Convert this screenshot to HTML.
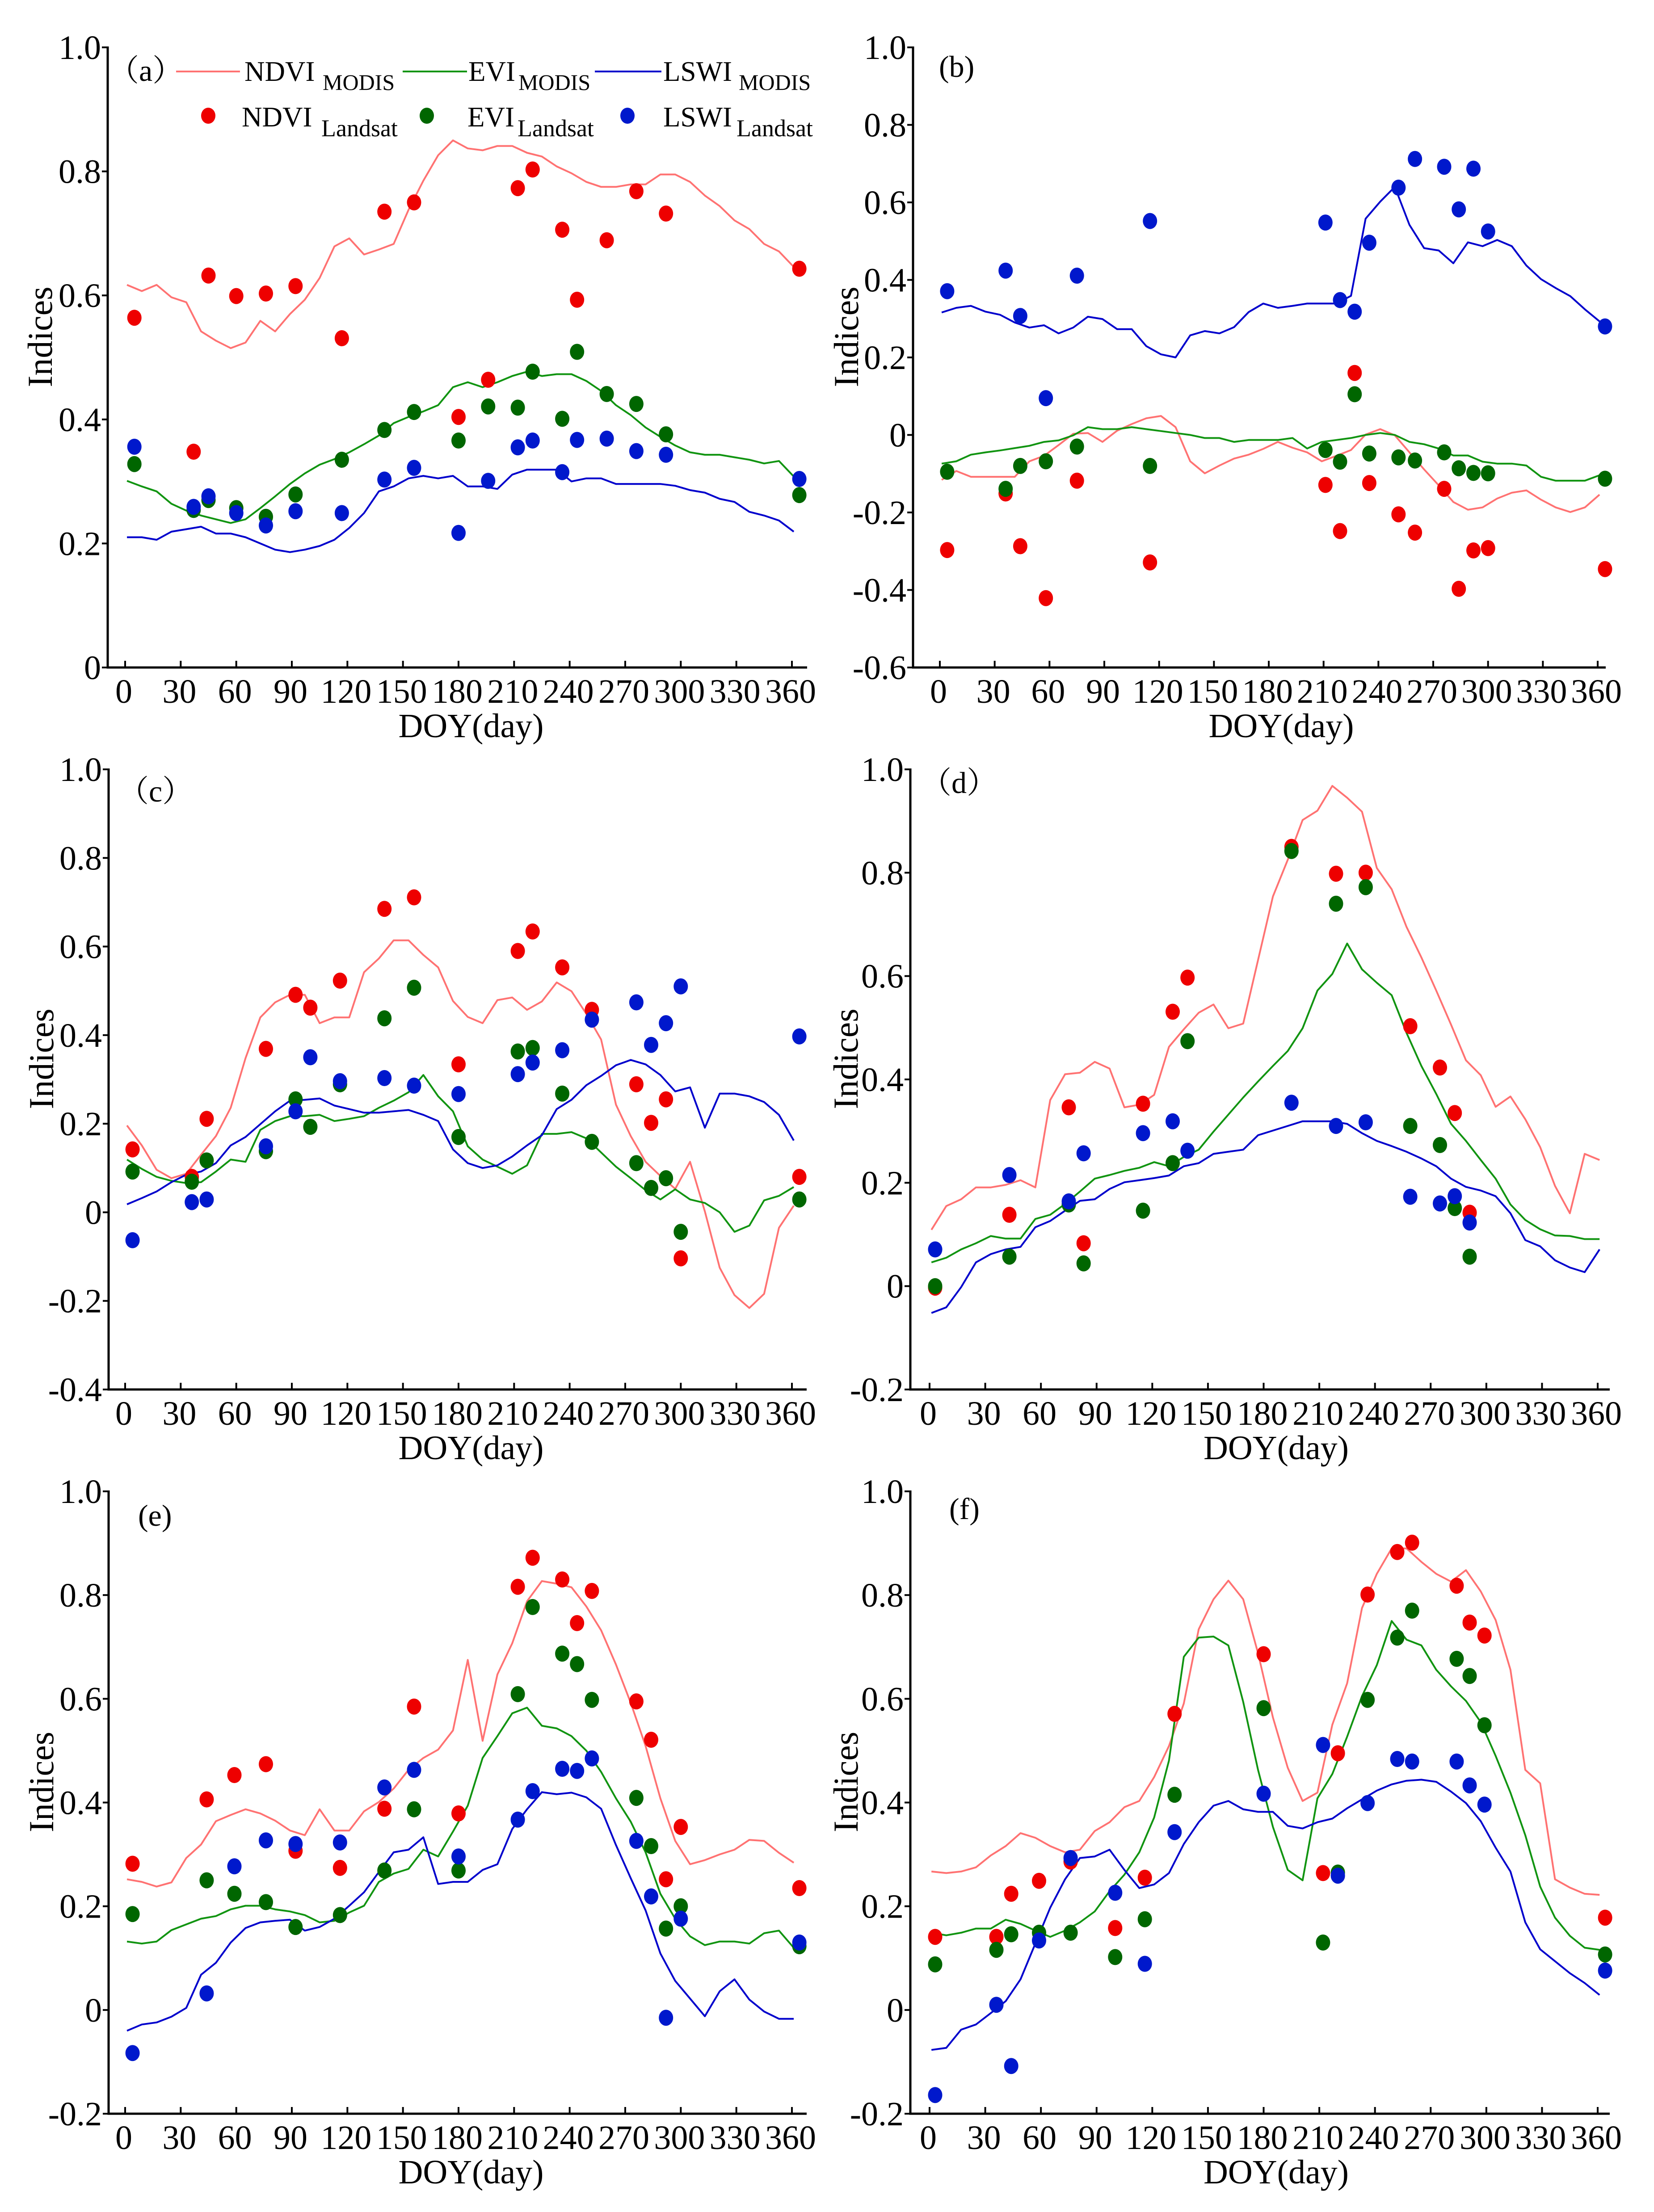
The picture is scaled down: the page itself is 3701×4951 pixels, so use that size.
<!DOCTYPE html>
<html>
<head>
<meta charset="utf-8">
<style>
html,body{margin:0;padding:0;background:#fff;}
svg{display:block;}
text{font-family:"Liberation Serif","Noto Serif CJK SC",serif;fill:#000;}
</style>
</head>
<body>
<svg id="fig" xmlns="http://www.w3.org/2000/svg" width="3701" height="4951" viewBox="0 0 3701 4951" font-family="Liberation Serif, Noto Serif CJK SC, serif">
<rect x="0" y="0" width="3701" height="4951" fill="#fff"/>
</svg>
<script>
// ---------- shared categories ----------
const doyModis=[1,9,17,25,33,41,49,57,65,73,81,89,97,105,113,121,129,137,145,153,161,169,177,185,193,201,209,217,225,233,241,249,257,265,273,281,289,297,305,313,321,329,337,345,353,361];
const xTickLabels=["0","30","60","90","120","150","180","210","240","270","300","330","360"];
const xTickValues=[0,30,60,90,120,150,180,210,240,270,300,330,360];

// ---------- panel (a) ----------
const aNdviModis=[0.617,0.607,0.617,0.597,0.589,0.542,0.527,0.515,0.524,0.559,0.542,0.570,0.593,0.628,0.679,0.692,0.666,0.674,0.683,0.738,0.785,0.826,0.850,0.837,0.834,0.841,0.841,0.830,0.824,0.808,0.797,0.783,0.775,0.775,0.779,0.779,0.795,0.795,0.783,0.761,0.744,0.721,0.707,0.683,0.671,0.646];
const aEviModis=[0.301,0.292,0.284,0.264,0.253,0.245,0.239,0.233,0.239,0.257,0.276,0.296,0.313,0.327,0.336,0.347,0.360,0.374,0.394,0.404,0.413,0.423,0.452,0.460,0.452,0.460,0.470,0.477,0.470,0.473,0.473,0.462,0.446,0.423,0.407,0.387,0.372,0.358,0.347,0.343,0.343,0.339,0.335,0.329,0.333,0.308];
const aLswiModis=[0.210,0.210,0.206,0.219,0.223,0.227,0.216,0.216,0.210,0.200,0.190,0.186,0.190,0.196,0.206,0.225,0.249,0.284,0.292,0.305,0.309,0.305,0.309,0.292,0.292,0.288,0.311,0.319,0.319,0.319,0.300,0.305,0.305,0.296,0.296,0.296,0.296,0.293,0.286,0.282,0.272,0.267,0.251,0.245,0.237,0.219];
const aDoyLandsat=[5,37,45,60,76,92,117,140,156,180,196,212,220,236,244,260,276,292,364];
const aNdviLandsat=[0.564,0.348,0.632,0.599,0.603,0.615,0.531,0.735,0.750,0.404,0.464,0.773,0.803,0.706,0.593,0.689,0.768,0.732,0.643];
const aEviLandsat=[0.328,0.254,0.270,0.257,0.243,0.279,0.335,0.383,0.412,0.366,0.421,0.419,0.477,0.401,0.509,0.441,0.425,0.376,0.278];
const aLswiLandsat=[0.356,0.259,0.276,0.249,0.229,0.252,0.249,0.303,0.322,0.217,0.301,0.355,0.366,0.315,0.367,0.369,0.349,0.343,0.304];
const aYTicks=["1.0","0.8","0.6","0.4","0.2","0"];

// ---------- panel (b) ----------
const bNdviModis=[-0.116,-0.093,-0.108,-0.108,-0.108,-0.108,-0.068,-0.054,-0.026,0.003,0.005,-0.018,0.011,0.028,0.043,0.049,0.020,-0.068,-0.099,-0.079,-0.061,-0.051,-0.036,-0.018,-0.033,-0.045,-0.068,-0.054,-0.039,0.001,0.015,-0.001,-0.045,-0.089,-0.130,-0.173,-0.193,-0.187,-0.164,-0.149,-0.143,-0.167,-0.187,-0.199,-0.187,-0.154];
const bEviModis=[-0.074,-0.068,-0.051,-0.045,-0.040,-0.034,-0.028,-0.018,-0.014,-0.001,0.020,0.015,0.015,0.020,0.015,0.010,0.005,0.0,-0.008,-0.008,-0.018,-0.013,-0.013,-0.013,-0.008,-0.035,-0.018,-0.013,-0.008,0.0,0.005,0.0,-0.018,-0.024,-0.035,-0.053,-0.053,-0.069,-0.074,-0.074,-0.079,-0.108,-0.118,-0.118,-0.118,-0.104];
const bLswiModis=[0.316,0.328,0.333,0.318,0.310,0.290,0.277,0.283,0.262,0.277,0.305,0.299,0.273,0.273,0.229,0.208,0.200,0.257,0.268,0.262,0.278,0.317,0.339,0.328,0.333,0.339,0.339,0.339,0.359,0.558,0.602,0.640,0.542,0.482,0.476,0.443,0.497,0.487,0.503,0.487,0.437,0.402,0.379,0.358,0.324,0.293];
const bDoyLandsat=[4,36,44,58,75,115,211,219,227,235,251,260,276,284,292,300,364];
const bNdviLandsat=[-0.297,-0.151,-0.287,-0.421,-0.118,-0.329,-0.129,-0.248,0.160,-0.124,-0.205,-0.252,-0.139,-0.397,-0.298,-0.292,-0.346];
const bEviLandsat=[-0.095,-0.139,-0.080,-0.068,-0.030,-0.080,-0.039,-0.069,0.105,-0.048,-0.058,-0.066,-0.045,-0.086,-0.098,-0.099,-0.113];
const bLswiLandsat=[0.371,0.424,0.307,0.095,0.411,0.552,0.548,0.348,0.318,0.496,0.638,0.712,0.692,0.582,0.687,0.525,0.280];
const bYTicks=["1.0","0.8","0.6","0.4","0.2","0","-0.2","-0.4","-0.6"];

// ---------- panel (c) ----------
const cNdviModis=[0.196,0.151,0.096,0.077,0.087,0.130,0.172,0.236,0.348,0.440,0.474,0.491,0.491,0.427,0.440,0.440,0.542,0.573,0.614,0.614,0.581,0.553,0.477,0.441,0.427,0.479,0.485,0.457,0.476,0.519,0.499,0.448,0.390,0.243,0.172,0.114,0.082,0.053,0.114,0.002,-0.125,-0.187,-0.216,-0.184,-0.035,0.015];
const cEviModis=[0.119,0.098,0.080,0.071,0.066,0.068,0.092,0.119,0.114,0.186,0.206,0.217,0.217,0.220,0.206,0.211,0.217,0.236,0.252,0.271,0.310,0.262,0.228,0.149,0.119,0.103,0.087,0.106,0.177,0.177,0.181,0.167,0.135,0.103,0.077,0.050,0.029,0.052,0.029,0.021,0.0,-0.044,-0.030,0.027,0.037,0.057];
const cLswiModis=[0.018,0.032,0.047,0.068,0.085,0.092,0.111,0.151,0.170,0.199,0.228,0.252,0.254,0.257,0.241,0.233,0.225,0.225,0.228,0.231,0.220,0.206,0.142,0.111,0.100,0.106,0.126,0.151,0.174,0.233,0.254,0.287,0.308,0.332,0.344,0.334,0.310,0.273,0.282,0.191,0.268,0.268,0.262,0.249,0.220,0.162];
const cDoyLandsat=[4,36,44,76,92,100,116,140,156,180,212,220,236,252,276,284,292,300,364];
const cNdviLandsat=[0.142,0.080,0.211,0.369,0.491,0.462,0.523,0.685,0.711,0.334,0.590,0.634,0.553,0.457,0.289,0.202,0.255,-0.104,0.080];
const cEviLandsat=[0.092,0.069,0.117,0.138,0.255,0.193,0.289,0.438,0.507,0.170,0.363,0.371,0.268,0.159,0.111,0.055,0.077,-0.044,0.029];
const cLswiLandsat=[-0.063,0.023,0.029,0.149,0.228,0.350,0.296,0.303,0.286,0.267,0.312,0.338,0.366,0.435,0.474,0.378,0.427,0.510,0.397];
const cYTicks=["1.0","0.8","0.6","0.4","0.2","0","-0.2","-0.4"];

// ---------- panel (d) ----------
const dNdviModis=[0.109,0.155,0.168,0.191,0.191,0.196,0.205,0.191,0.360,0.410,0.413,0.434,0.421,0.346,0.351,0.370,0.463,0.497,0.529,0.545,0.499,0.508,0.631,0.754,0.825,0.902,0.920,0.968,0.945,0.918,0.809,0.768,0.695,0.636,0.572,0.506,0.437,0.408,0.347,0.367,0.323,0.269,0.194,0.141,0.256,0.244];
const dEviModis=[0.046,0.055,0.071,0.083,0.097,0.092,0.092,0.130,0.138,0.159,0.183,0.208,0.215,0.223,0.229,0.240,0.232,0.250,0.264,0.299,0.332,0.365,0.396,0.426,0.455,0.499,0.572,0.604,0.663,0.613,0.587,0.563,0.490,0.426,0.372,0.314,0.281,0.244,0.208,0.158,0.128,0.110,0.098,0.097,0.091,0.091];
const dLswiModis=[-0.052,-0.041,-0.002,0.046,0.062,0.071,0.076,0.114,0.126,0.146,0.165,0.168,0.188,0.201,0.205,0.209,0.214,0.232,0.238,0.256,0.260,0.264,0.292,0.301,0.310,0.319,0.319,0.319,0.314,0.296,0.281,0.271,0.260,0.247,0.232,0.208,0.192,0.185,0.174,0.141,0.089,0.077,0.050,0.036,0.027,0.071];
const dDoyLandsat=[3,43,75,83,115,131,139,195,219,235,259,275,283,291];
const dNdviLandsat=[-0.003,0.138,0.346,0.083,0.353,0.531,0.597,0.850,0.798,0.800,0.503,0.423,0.335,0.142];
const dEviLandsat=[0.000,0.057,0.158,0.044,0.146,0.238,0.474,0.842,0.740,0.772,0.310,0.273,0.151,0.057];
const dLswiLandsat=[0.071,0.215,0.164,0.257,0.296,0.319,0.262,0.355,0.310,0.317,0.173,0.160,0.174,0.123];
const dYTicks=["1.0","0.8","0.6","0.4","0.2","0","-0.2"];

// ---------- panel (e) ----------
const eNdviModis=[0.252,0.247,0.238,0.246,0.293,0.319,0.364,0.376,0.387,0.379,0.365,0.346,0.337,0.387,0.346,0.346,0.383,0.401,0.427,0.463,0.486,0.502,0.539,0.675,0.519,0.647,0.707,0.788,0.827,0.822,0.815,0.778,0.732,0.666,0.592,0.509,0.408,0.326,0.281,0.289,0.300,0.309,0.328,0.326,0.303,0.284];
const eEviModis=[0.132,0.128,0.132,0.154,0.165,0.176,0.181,0.194,0.201,0.201,0.194,0.190,0.183,0.169,0.172,0.188,0.201,0.247,0.263,0.272,0.309,0.296,0.344,0.394,0.486,0.528,0.572,0.583,0.548,0.543,0.528,0.500,0.459,0.408,0.363,0.304,0.224,0.176,0.142,0.125,0.132,0.132,0.128,0.148,0.153,0.120];
const eLswiModis=[-0.040,-0.028,-0.024,-0.013,0.004,0.068,0.091,0.130,0.158,0.169,0.172,0.174,0.153,0.160,0.176,0.201,0.227,0.266,0.304,0.309,0.333,0.243,0.247,0.247,0.270,0.281,0.349,0.387,0.420,0.416,0.419,0.410,0.388,0.318,0.254,0.192,0.109,0.056,0.022,-0.012,0.036,0.059,0.020,-0.003,-0.017,-0.017];
const eDoyLandsat=[4,44,59,76,92,116,140,156,180,212,220,236,244,252,276,284,292,300,364];
const eNdviLandsat=[0.282,0.406,0.453,0.474,0.307,0.274,0.388,0.585,0.379,0.816,0.872,0.830,0.746,0.808,0.595,0.521,0.252,0.353,0.235];
const eEviLandsat=[0.185,0.250,0.224,0.208,0.160,0.183,0.269,0.387,0.269,0.609,0.777,0.687,0.667,0.598,0.409,0.316,0.157,0.200,0.123];
const eLswiLandsat=[-0.083,0.032,0.277,0.327,0.320,0.323,0.429,0.463,0.296,0.367,0.422,0.465,0.461,0.485,0.326,0.219,-0.015,0.176,0.130];
const eYTicks=["1.0","0.8","0.6","0.4","0.2","0","-0.2"];

// ---------- panel (f) ----------
const fNdviModis=[0.267,0.264,0.267,0.275,0.298,0.316,0.341,0.332,0.316,0.304,0.309,0.345,0.362,0.391,0.403,0.449,0.509,0.591,0.734,0.792,0.828,0.792,0.688,0.564,0.467,0.403,0.419,0.550,0.630,0.775,0.841,0.890,0.890,0.864,0.841,0.826,0.848,0.807,0.752,0.656,0.463,0.437,0.252,0.236,0.224,0.222];
const fEviModis=[0.149,0.144,0.149,0.157,0.157,0.174,0.166,0.153,0.141,0.153,0.169,0.190,0.229,0.261,0.304,0.371,0.481,0.681,0.718,0.720,0.703,0.594,0.463,0.353,0.270,0.250,0.408,0.455,0.527,0.605,0.665,0.750,0.714,0.703,0.656,0.624,0.596,0.555,0.490,0.419,0.337,0.238,0.178,0.143,0.120,0.116];
const fLswiModis=[-0.077,-0.073,-0.038,-0.028,-0.006,0.017,0.059,0.128,0.197,0.252,0.293,0.296,0.309,0.270,0.235,0.242,0.264,0.320,0.362,0.394,0.403,0.387,0.382,0.382,0.355,0.350,0.362,0.369,0.389,0.406,0.423,0.435,0.442,0.444,0.440,0.421,0.399,0.364,0.313,0.267,0.169,0.117,0.094,0.071,0.052,0.029];
const fDoyLandsat=[3,36,44,59,76,100,116,132,180,212,220,236,252,260,284,291,299,364];
const fNdviLandsat=[0.141,0.141,0.224,0.249,0.286,0.158,0.255,0.571,0.686,0.264,0.495,0.801,0.883,0.901,0.818,0.747,0.722,0.178];
const fEviLandsat=[0.088,0.116,0.146,0.149,0.149,0.102,0.175,0.415,0.582,0.130,0.265,0.598,0.718,0.770,0.677,0.644,0.549,0.107];
const fLswiLandsat=[-0.164,0.010,-0.108,0.134,0.293,0.226,0.089,0.343,0.417,0.511,0.259,0.399,0.484,0.479,0.479,0.433,0.396,0.076];
const fYTicks=["1.0","0.8","0.6","0.4","0.2","0","-0.2"];

// ---------- drawing ----------
const NS="http://www.w3.org/2000/svg";
const svg=document.getElementById('fig');
const COL={ndviLine:'#ff7272',eviLine:'#119411',lswiLine:'#0000cc',ndviDot:'#ee0000',eviDot:'#006600',lswiDot:'#0018cc'};

function mk(tag,parent){const e=document.createElementNS(NS,tag);parent.appendChild(e);return e;}

function drawPanel(p){
  const g=mk('g',svg);
  
  
  const vMax=1.0,vMin=p.vMin;
  const X=d=>p.x0+d/360*(p.x360-p.x0);
  const Y=v=>p.yTop+(vMax-v)/(vMax-vMin)*(p.yBot-p.yTop);

  const yAx=mk('line',g);
  
  
  yAx.setAttribute('x1',p.ax);yAx.setAttribute('x2',p.ax);
  yAx.setAttribute('y1',p.yTop-2);yAx.setAttribute('y2',p.yBot+2.5);
  yAx.setAttribute('stroke','#000');yAx.setAttribute('stroke-width','5');
  const xAx=mk('line',g);
  
  
  xAx.setAttribute('x1',p.ax-2.5);xAx.setAttribute('x2',p.right);
  xAx.setAttribute('y1',p.yBot);xAx.setAttribute('y2',p.yBot);
  xAx.setAttribute('stroke','#000');xAx.setAttribute('stroke-width','5');

  p.yTicks.forEach((lab)=>{
    const v=parseFloat(lab);
    const t=mk('line',g);
    
    
    t.setAttribute('x1',p.ax-13);t.setAttribute('x2',p.ax);
    t.setAttribute('y1',Y(v));t.setAttribute('y2',Y(v));
    t.setAttribute('stroke','#000');t.setAttribute('stroke-width','4');
    const tx=mk('text',g);
    
    
    tx.setAttribute('x',p.ax-15);tx.setAttribute('y',Y(v)+26);
    tx.setAttribute('text-anchor','end');tx.setAttribute('font-size','76');
    tx.textContent=lab;
  });
  xTickValues.forEach((d,i)=>{
    const t=mk('line',g);
    
    
    t.setAttribute('x1',X(d));t.setAttribute('x2',X(d));
    t.setAttribute('y1',p.yBot);t.setAttribute('y2',p.yBot-15);
    t.setAttribute('stroke','#000');t.setAttribute('stroke-width','4');
    const tx=mk('text',g);
    
    
    tx.setAttribute('x',X(d)-3);tx.setAttribute('y',p.yBot+79);
    tx.setAttribute('text-anchor','middle');tx.setAttribute('font-size','76');
    tx.textContent=xTickLabels[i];
  });
  const xt=mk('text',g);
  
  
  xt.setAttribute('x',(p.x0+p.x360)/2+28);xt.setAttribute('y',p.yBot+156);
  xt.setAttribute('text-anchor','middle');xt.setAttribute('font-size','76');
  xt.textContent='DOY(day)';
  const yt=mk('text',g);
  
  
  const cy=(p.yTop+p.yBot)/2-46;
  yt.setAttribute('transform','translate('+p.ylx+','+cy+') rotate(-90)');
  yt.setAttribute('text-anchor','middle');yt.setAttribute('font-size','78');
  yt.textContent='Indices';
  const pl=mk('text',g);
  
  
  pl.setAttribute('x',p.lx);pl.setAttribute('y',p.ly);
  pl.setAttribute('font-size','68');
  pl.textContent=p.label;

  const lines=[[p.ndviM,COL.ndviLine,'ndvi-modis-line'],[p.eviM,COL.eviLine,'evi-modis-line'],[p.lswiM,COL.lswiLine,'lswi-modis-line']];
  lines.forEach(([arr,c,nm])=>{
    const pts=arr.map((v,i)=>X(doyModis[i]).toFixed(1)+','+Y(v).toFixed(1)).join(' ');
    const pl=mk('polyline',g);
    
    
    pl.setAttribute('points',pts);
    pl.setAttribute('fill','none');pl.setAttribute('stroke',c);
    pl.setAttribute('stroke-width','4');pl.setAttribute('stroke-linejoin','round');
  });
  const dots=[[p.ndviL,COL.ndviDot,'ndvi-landsat-point'],[p.eviL,COL.eviDot,'evi-landsat-point'],[p.lswiL,COL.lswiDot,'lswi-landsat-point']];
  dots.forEach(([arr,c,nm])=>{
    arr.forEach((v,i)=>{
      const e=mk('ellipse',g);
      
      
      e.setAttribute('cx',X(p.doyL[i]).toFixed(1));
      e.setAttribute('cy',Y(v).toFixed(1));
      e.setAttribute('rx','16');e.setAttribute('ry','18');
      e.setAttribute('fill',c);
    });
  });
}

const panels=[
 {id:'a',label:'（a）',lx:243,ly:181,ax:241,x0:280,x360:1772,right:1806,yTop:106,yBot:1494,vMin:0,ylx:116,yTicks:aYTicks,ndviM:aNdviModis,eviM:aEviModis,lswiM:aLswiModis,doyL:aDoyLandsat,ndviL:aNdviLandsat,eviL:aEviLandsat,lswiL:aLswiLandsat},
 {id:'b',label:'(b)',lx:2101,ly:172,ax:2043,x0:2103,x360:3575,right:3593,yTop:106,yBot:1494,vMin:-0.6,ylx:1920,yTicks:bYTicks,ndviM:bNdviModis,eviM:bEviModis,lswiM:bLswiModis,doyL:bDoyLandsat,ndviL:bNdviLandsat,eviL:bEviLandsat,lswiL:bLswiLandsat},
 {id:'c',label:'（c）',lx:265,ly:1794,ax:243,x0:280,x360:1772,right:1805,yTop:1722,yBot:3110,vMin:-0.4,ylx:119,yTicks:cYTicks,ndviM:cNdviModis,eviM:cEviModis,lswiM:cLswiModis,doyL:cDoyLandsat,ndviL:cNdviLandsat,eviL:cEviLandsat,lswiL:cLswiLandsat},
 {id:'d',label:'（d）',lx:2061,ly:1775,ax:2037,x0:2080,x360:3575,right:3602,yTop:1722,yBot:3110,vMin:-0.2,ylx:1919,yTicks:dYTicks,ndviM:dNdviModis,eviM:dEviModis,lswiM:dLswiModis,doyL:dDoyLandsat,ndviL:dNdviLandsat,eviL:dEviLandsat,lswiL:dLswiLandsat},
 {id:'e',label:'(e)',lx:309,ly:3415,ax:243,x0:280,x360:1772,right:1805,yTop:3338,yBot:4731,vMin:-0.2,ylx:119,yTicks:eYTicks,ndviM:eNdviModis,eviM:eEviModis,lswiM:eLswiModis,doyL:eDoyLandsat,ndviL:eNdviLandsat,eviL:eEviLandsat,lswiL:eLswiLandsat},
 {id:'f',label:'(f)',lx:2124,ly:3400,ax:2037,x0:2080,x360:3575,right:3602,yTop:3338,yBot:4731,vMin:-0.2,ylx:1919,yTicks:fYTicks,ndviM:fNdviModis,eviM:fEviModis,lswiM:fLswiModis,doyL:fDoyLandsat,ndviL:fNdviLandsat,eviL:fEviLandsat,lswiL:fLswiLandsat}
];
panels.forEach(drawPanel);

// ---------- legend (panel a) ----------
const lg=mk('g',svg);


const legLines=[[394,537,COL.ndviLine,'NDVI',547,'MODIS',722],[901,1045,COL.eviLine,'EVI',1048,'MODIS',1160],[1331,1480,COL.lswiLine,'LSWI',1484,'MODIS',1653]];
legLines.forEach(([x1,x2,c,t,tx,s,sx])=>{
  const l=mk('line',lg);
  
  
  l.setAttribute('x1',x1);l.setAttribute('x2',x2);l.setAttribute('y1',160);l.setAttribute('y2',160);
  l.setAttribute('stroke',c);l.setAttribute('stroke-width','4');
  const a=mk('text',lg);
  
  
  a.setAttribute('x',tx);a.setAttribute('y',181);a.setAttribute('font-size','63');
  a.textContent=t;
  const b=mk('text',lg);
  
  
  b.setAttribute('x',sx);b.setAttribute('y',201);b.setAttribute('font-size','50');
  b.textContent=s;
});
const legDots=[[466,COL.ndviDot,'NDVI',541,719],[955,COL.eviDot,'EVI',1046,1158],[1404,COL.lswiDot,'LSWI',1484,1648]];
legDots.forEach(([cx,c,t,tx,sx])=>{
  const e=mk('ellipse',lg);
  
  
  e.setAttribute('cx',cx);e.setAttribute('cy',259);e.setAttribute('rx','16');e.setAttribute('ry','18');
  e.setAttribute('fill',c);
  const a=mk('text',lg);
  
  
  a.setAttribute('x',tx);a.setAttribute('y',283);a.setAttribute('font-size','63');
  a.textContent=t;
  const b=mk('text',lg);
  
  
  b.setAttribute('x',sx);b.setAttribute('y',305);b.setAttribute('font-size','54');
  b.textContent='Landsat';
});
</script>
</body>
</html>
